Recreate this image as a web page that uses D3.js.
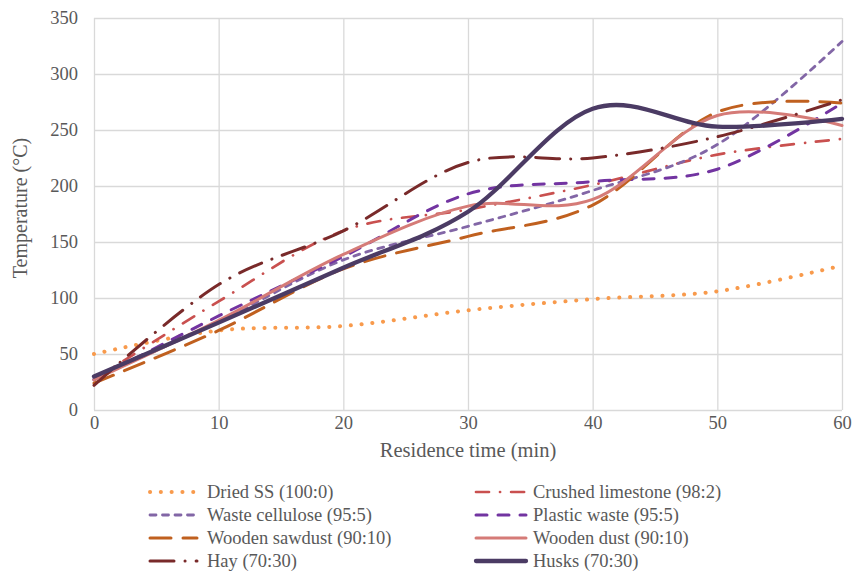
<!DOCTYPE html>
<html>
<head>
<meta charset="utf-8">
<script src="https://cdn.jsdelivr.net/npm/d3@7/dist/d3.min.js"></script>
<style>
    body { margin: 0; background: #fff; }
    text { font-family: "Liberation Serif", "Times New Roman", serif; fill: #595959; }
    .grid line { stroke: #d9d9d9; stroke-width: 1.3; }
    .grid path { display: none; }
</style>
</head>
<body>
<div id="chart"></div>
<script>
// residence time (min), readings every 10 min
var minutes = [0, 10, 20, 30, 40, 50, 60];

// temperature (°C) per mixture
var driedSS          = [50, 71, 75, 89, 99, 106, 129];
var crushedLimestone = [27, 97, 160, 179, 201, 228, 242];
var wasteCellulose   = [28, 79, 134, 164, 196, 237, 329];
var plasticWaste     = [27, 84, 137, 193, 204, 215, 274];
var woodenSawdust    = [24, 71, 126, 155, 183, 266, 274];
var woodenDust       = [27, 80, 139, 182, 188, 263, 254];
var hay              = [22, 112, 160, 221, 225, 244, 277];
var husks            = [30, 78, 127, 177, 269, 253, 260];

var seriesNames = ["Dried SS (100:0)", "Crushed limestone (98:2)", "Waste cellulose (95:5)",
    "Plastic waste (95:5)", "Wooden sawdust (90:10)", "Wooden dust (90:10)", "Hay (70:30)", "Husks (70:30)"];
var seriesValues = [driedSS, crushedLimestone, wasteCellulose, plasticWaste,
    woodenSawdust, woodenDust, hay, husks];

var xTicks = [0, 10, 20, 30, 40, 50, 60];
var yTicks = [0, 50, 100, 150, 200, 250, 300, 350];

function init() {

    var W = 854, H = 572;
    var left = 94, right = 842, top = 18, bottom = 410;

    // line look of each series, same order as seriesNames
    var styles = [
        { color: "#f89a4c", width: 4,   dash: "0.1 10.7" },
        { color: "#c9504f", width: 2.7, dash: "13 11 0.1 11" },
        { color: "#8266a6", width: 2.8, dash: "6 6.5" },
        { color: "#7234a1", width: 3,   dash: "11 11" },
        { color: "#c0601f", width: 3,   dash: "21 12" },
        { color: "#d57b77", width: 3,   dash: null },
        { color: "#792a2a", width: 3,   dash: "24 11 0.1 11" },
        { color: "#4b3b64", width: 4.3, dash: null }
    ];

    var svg = d3.select("#chart")
        .append("svg")
        .attr("width", W)
        .attr("height", H);

    var xScale = d3.scaleLinear().domain([0, 60]).range([left, right]);
    var yScale = d3.scaleLinear().domain([0, 350]).range([bottom, top]);

    //gridlines + tick labels
    svg.append("g")
        .attr("class", "grid")
        .attr("transform", "translate(" + left + ",0)")
        .call(d3.axisLeft(yScale).tickValues(yTicks).tickSize(-(right - left)).tickPadding(16))
        .selectAll("text").style("font-size", "18.5px");

    svg.append("g")
        .attr("class", "grid")
        .attr("transform", "translate(0," + bottom + ")")
        .call(d3.axisBottom(xScale).tickValues(xTicks).tickSize(-(bottom - top)).tickPadding(6))
        .selectAll("text").style("font-size", "18.5px");

    svg.selectAll(".grid text").attr("fill", "#595959");

    //lines
    var line = d3.line()
        .x(function (d, i) { return xScale(minutes[i]); })
        .y(function (d) { return yScale(d); })
        .curve(d3.curveCardinal.tension(0));

    svg.append("g")
        .selectAll("path")
        .data(seriesValues)
        .enter()
        .append("path")
        .attr("d", line)
        .attr("fill", "none")
        .attr("stroke", function (d, i) { return styles[i].color; })
        .attr("stroke-width", function (d, i) { return styles[i].width; })
        .attr("stroke-dasharray", function (d, i) { return styles[i].dash; })
        .attr("stroke-linecap", "round");

    //axis titles
    svg.append("text")
        .attr("x", (left + right) / 2)
        .attr("y", 457)
        .attr("text-anchor", "middle")
        .style("font-size", "20.5px")
        .text("Residence time (min)");

    svg.append("text")
        .attr("transform", "translate(27," + 208 + ") rotate(-90)")
        .attr("text-anchor", "middle")
        .style("font-size", "20px")
        .text("Temperature (°C)");

    //legend, two columns
    var legend = svg.selectAll(".legend")
        .data(seriesNames)
        .enter()
        .append("g")
        .attr("class", "legend")
        .attr("transform", function (d, i) {
            var col = i % 2, row = Math.floor(i / 2);
            return "translate(" + (col === 0 ? 150 : 476) + "," + (492 + row * 23) + ")";
        });

    legend.append("line")
        .attr("x1", 0)
        .attr("x2", function (d, i) { return i % 2 === 0 ? 47 : 50; })
        .attr("stroke", function (d, i) { return styles[i].color; })
        .attr("stroke-width", function (d, i) { return styles[i].width; })
        .attr("stroke-dasharray", function (d, i) { return styles[i].dash; })
        .attr("stroke-linecap", "round");

    legend.append("text")
        .attr("x", function (d, i) { return i % 2 === 0 ? 57 : 57; })
        .attr("dy", "0.33em")
        .style("font-size", "18.5px")
        .text(function (d) { return d; });
}

window.onload = init;
</script>
</body>
</html>
